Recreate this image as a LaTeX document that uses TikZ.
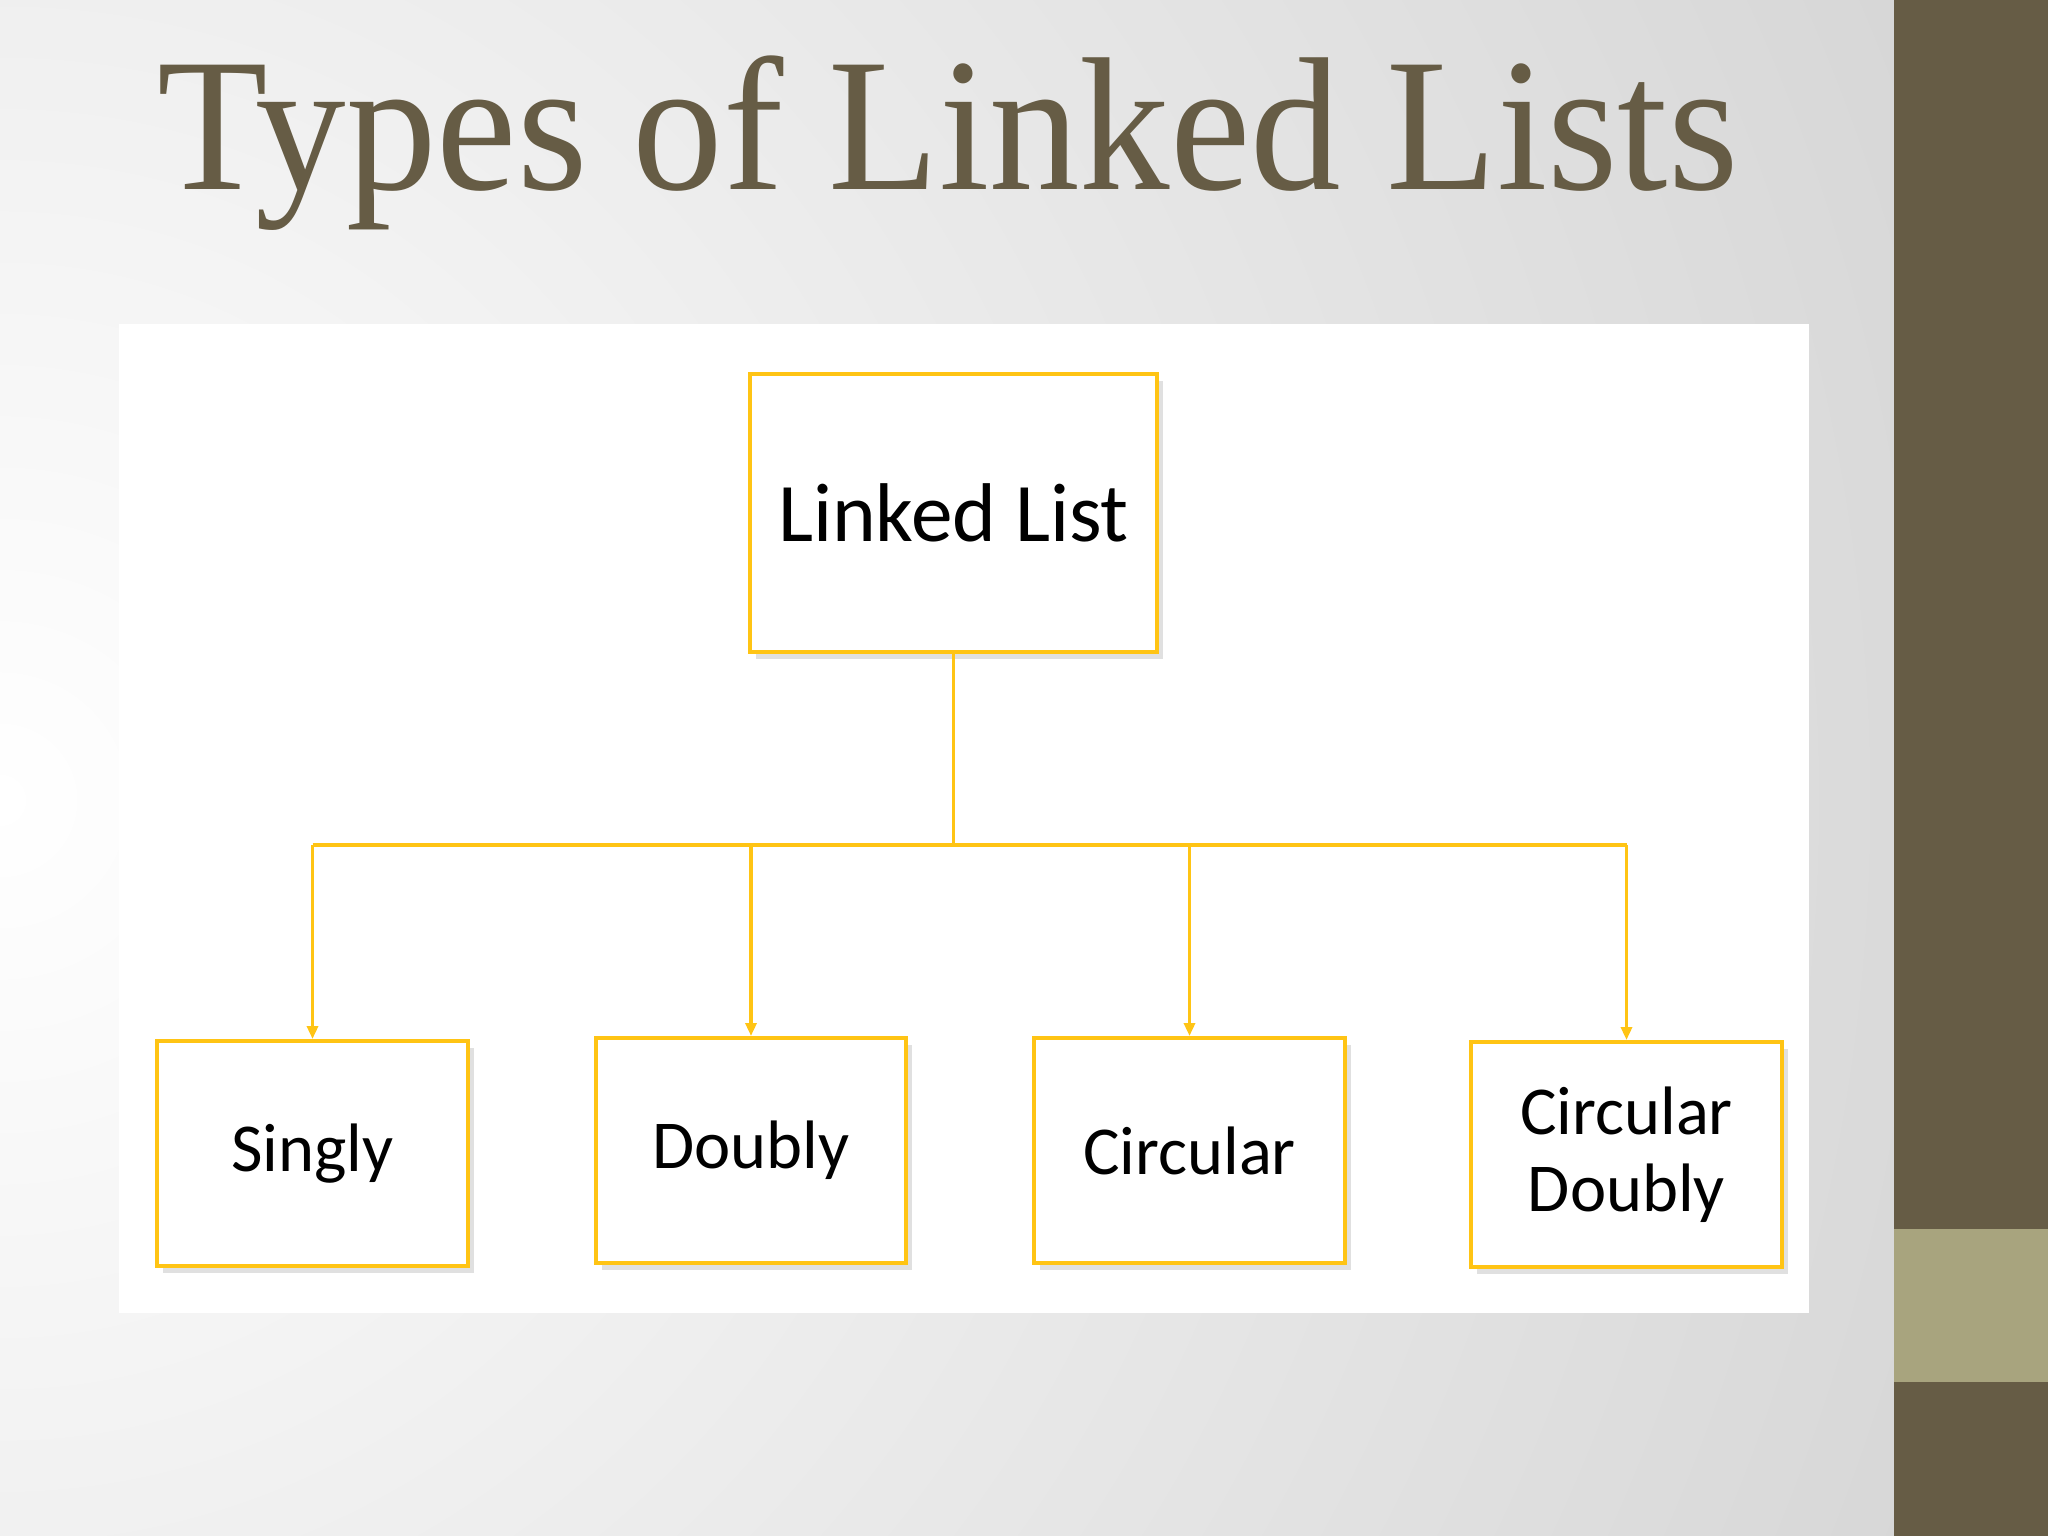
\documentclass[tikz,border=0pt]{standalone}
\usepackage{fontspec}
\setmainfont{Liberation Serif}
\newfontfamily\titlefont[FakeStretch=0.953]{Liberation Serif}
\newfontfamily\bodyfont{Carlito}
\usetikzlibrary{arrows.meta,shadows}
\definecolor{olive}{RGB}{102,92,69}
\definecolor{lightolive}{RGB}{168,164,126}
\definecolor{gold}{RGB}{255,196,20}
\definecolor{bggrey}{RGB}{214,214,214}
\tikzset{
  box/.style={draw=gold, line width=1.1pt, fill=white, inner sep=0pt, align=center,
    font=\bodyfont\fontsize{19.5}{22}\selectfont,
    drop shadow={shadow xshift=0.06cm, shadow yshift=-0.07cm, fill=black, opacity=0.12}},
  link/.style={draw=gold, line width=1pt},
  arr/.style={link, -{Triangle[length=0.13cm,width=0.11cm]}}
}
\begin{document}
\begin{tikzpicture}[x=0.01cm,y=-0.01cm]
\useasboundingbox (0,0) rectangle (2048,1536);
% background
\begin{scope}
\clip (0,0) rectangle (2048,1536);
\shade[inner color=white, outer color=bggrey] (0,800) circle (2100);
\end{scope}
% right bar
\fill[olive] (1894,0) rectangle (2048,1536);
\fill[lightolive] (1894,1229) rectangle (2048,1382);
% title
\node[anchor=base, text=olive, font=\titlefont\fontsize{54}{58}\selectfont, inner sep=0pt] (title) at (948,189) {Types of Linked Lists};
% white panel
\fill[white] (119,324) rectangle (1809,1313);
% boxes
\node[box, minimum width=4.07cm, minimum height=2.78cm, font=\bodyfont\fontsize{23.7}{26}\selectfont] (root) at (953.5,513) {Linked List};
\node[box, minimum width=3.11cm, minimum height=2.25cm] (singly) at (312.5,1153.5) {Singly};
\node[box, minimum width=3.10cm, minimum height=2.25cm] (doubly) at (751,1150.5) {Doubly};
\node[box, minimum width=3.11cm, minimum height=2.25cm] (circular) at (1189.5,1150.5) {Circular};
\node[box, minimum width=3.11cm, minimum height=2.25cm] (cdoubly) at (1626.5,1154.5) {Circular\\Doubly};
% connectors
\coordinate (j0) at (root.south |- 0,845);
\coordinate (j1) at (singly.north |- j0);
\coordinate (j2) at (doubly.north |- j0);
\coordinate (j3) at (circular.north |- j0);
\coordinate (j4) at (cdoubly.north |- j0);
\draw[link] (root.south) -- (j0);
\draw[link] (j1) -- (j4);
\draw[arr] (j1) -- (singly.north);
\draw[arr] (j2) -- (doubly.north);
\draw[arr] (j3) -- (circular.north);
\draw[arr] (j4) -- (cdoubly.north);
\end{tikzpicture}
\end{document}
